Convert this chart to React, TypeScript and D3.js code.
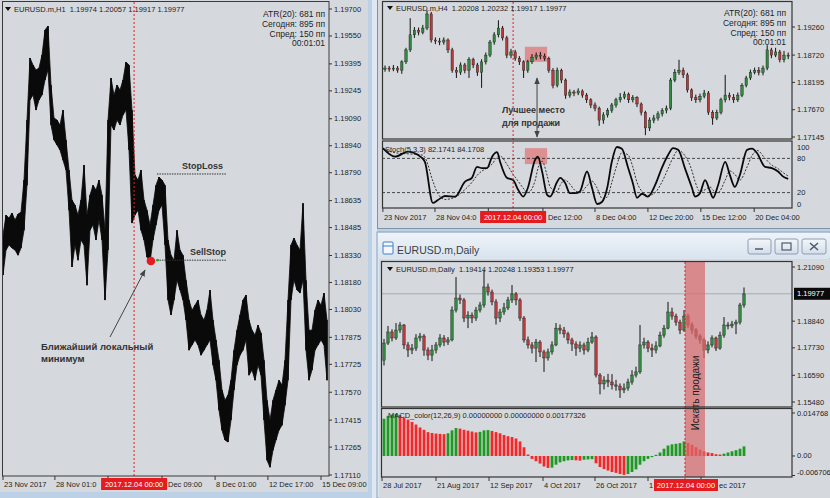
import React from 'react';
import * as d3 from 'd3';

// ---------------- H1 (left window) ----------------
const h1High = [1.18443,1.18555,1.18538,1.18566,1.18527,1.18560,1.18571,1.18749,1.19083,1.19428,1.19389,1.19361,1.19372,1.19444,1.19583,1.19605,1.19277,1.19094,1.19083,1.19055,1.19138,1.18972,1.18805,1.18638,1.18610,1.18555,1.18638,1.18833,1.18555,1.18666,1.18721,1.18694,1.18749,1.18666,1.18471,1.19083,1.19316,1.19222,1.19277,1.19250,1.19305,1.19405,1.19389,1.19138,1.18777,1.18749,1.18805,1.18638,1.18582,1.18499,1.18610,1.18721,1.18766,1.18749,1.18721,1.18416,1.18332,1.18304,1.18471,1.18360,1.18332,1.18193,1.18082,1.18026,1.18054,1.18082,1.17999,1.17971,1.18026,1.18138,1.17971,1.17860,1.17748,1.17582,1.17526,1.17554,1.17637,1.17804,1.17915,1.17999,1.18082,1.18110,1.17971,1.17915,1.17888,1.17943,1.17899,1.17748,1.17526,1.17415,1.17526,1.17582,1.17637,1.17610,1.17748,1.18082,1.18388,1.18427,1.18388,1.18360,1.18621,1.18193,1.17915,1.17915,1.18026,1.18082,1.18054,1.18121,1.17971];
const h1Low = [1.18221,1.18360,1.18388,1.18371,1.18360,1.18332,1.18371,1.18471,1.18721,1.19194,1.19222,1.19138,1.19194,1.19222,1.19305,1.19361,1.19055,1.18972,1.18944,1.18916,1.18860,1.18805,1.18582,1.18266,1.18388,1.18304,1.18416,1.18388,1.18165,1.18471,1.18499,1.18416,1.18527,1.18416,1.18082,1.18360,1.19055,1.19027,1.19083,1.19055,1.19111,1.19138,1.18916,1.18510,1.18555,1.18582,1.18471,1.18416,1.18321,1.18293,1.18416,1.18499,1.18582,1.18610,1.18388,1.18082,1.17999,1.18082,1.18193,1.18138,1.18082,1.17971,1.17804,1.17832,1.17860,1.17832,1.17776,1.17804,1.17832,1.17860,1.17721,1.17637,1.17470,1.17359,1.17304,1.17293,1.17415,1.17582,1.17721,1.17776,1.17804,1.17860,1.17665,1.17693,1.17637,1.17721,1.17665,1.17415,1.17192,1.17153,1.17248,1.17304,1.17359,1.17387,1.17498,1.17637,1.18082,1.18193,1.18138,1.18121,1.18193,1.17804,1.17637,1.17693,1.17804,1.17832,1.17860,1.17832,1.17637];
const h1PriceTicks = [1.197,1.1955,1.19395,1.19245,1.1909,1.1894,1.1879,1.18635,1.18485,1.1833,1.1818,1.1803,1.17875,1.17725,1.1757,1.17415,1.17265,1.1711];
const h1TimePos = [0,17.3,35,53,70.7,88.3,106];
// visible part of each time label (parts under the red date box are not shown)
const h1TimeText = ['23 Nov 2017','28 Nov 01:0','','Dec 09:00','8 Dec 01:00','12 Dec 17:00','15 Dec 09:00'];
const h1TimeShift = [1,1,1,6,1,1,1];
const h1MarkerPos = 43.7;
const h1StopLoss = 1.18783;
const h1SellStop = 1.18304;
const h1LocalMinPos = 49.3;
const h1LocalMin = 1.18299;

// ---------------- H4 (top right) ----------------
const h4FirstOpen = 1.1845;
const h4Close = [1.1847,1.1845,1.1847,1.1843,1.1859,1.1882,1.1911,1.1920,1.1916,1.1924,1.1951,1.1901,1.1899,1.1897,1.1901,1.1882,1.1843,1.1839,1.1853,1.1843,1.1863,1.1853,1.1839,1.1859,1.1872,1.1897,1.1911,1.1924,1.1905,1.1872,1.1878,1.1866,1.1859,1.1843,1.1859,1.1868,1.1872,1.1870,1.1866,1.1843,1.1814,1.1843,1.1824,1.1795,1.1801,1.1799,1.1803,1.1795,1.1786,1.1776,1.1770,1.1747,1.1757,1.1766,1.1776,1.1786,1.1791,1.1797,1.1786,1.1790,1.1778,1.1762,1.1732,1.1747,1.1751,1.1759,1.1766,1.1770,1.1824,1.1839,1.1843,1.1834,1.1805,1.1790,1.1786,1.1793,1.1799,1.1762,1.1751,1.1762,1.1786,1.1795,1.1791,1.1786,1.1795,1.1814,1.1828,1.1839,1.1843,1.1839,1.1847,1.1882,1.1872,1.1878,1.1863,1.1872,1.1870];
const h4High = [1.1852,1.1851,1.1853,1.1851,1.1862,1.1886,1.1943,1.1926,1.1925,1.1930,1.1958,1.1955,1.1906,1.1905,1.1906,1.1904,1.1886,1.1849,1.1858,1.1857,1.1868,1.1867,1.1857,1.1864,1.1877,1.1901,1.1916,1.1939,1.1928,1.1909,1.1884,1.1882,1.1870,1.1862,1.1863,1.1874,1.1877,1.1878,1.1875,1.1869,1.1847,1.1848,1.1846,1.1827,1.1806,1.1805,1.1808,1.1806,1.1799,1.1789,1.1781,1.1773,1.1762,1.1770,1.1780,1.1790,1.1799,1.1802,1.1800,1.1795,1.1793,1.1781,1.1765,1.1752,1.1757,1.1764,1.1770,1.1775,1.1828,1.1845,1.1863,1.1848,1.1838,1.1808,1.1796,1.1798,1.1805,1.1803,1.1766,1.1767,1.1790,1.1834,1.1800,1.1797,1.1800,1.1818,1.1832,1.1844,1.1848,1.1849,1.1852,1.1891,1.1886,1.1886,1.1882,1.1880,1.1877];
const h4Low = [1.1840,1.1840,1.1841,1.1838,1.1836,1.1855,1.1878,1.1905,1.1910,1.1912,1.1920,1.1896,1.1893,1.1891,1.1892,1.1876,1.1838,1.1828,1.1834,1.1837,1.1828,1.1847,1.1832,1.1809,1.1854,1.1868,1.1892,1.1906,1.1900,1.1866,1.1866,1.1861,1.1853,1.1828,1.1838,1.1855,1.1863,1.1864,1.1861,1.1838,1.1808,1.1810,1.1818,1.1788,1.1790,1.1793,1.1795,1.1790,1.1780,1.1770,1.1764,1.1736,1.1740,1.1752,1.1761,1.1771,1.1781,1.1787,1.1780,1.1781,1.1772,1.1756,1.1718,1.1726,1.1741,1.1746,1.1754,1.1760,1.1766,1.1820,1.1834,1.1828,1.1800,1.1784,1.1780,1.1781,1.1789,1.1757,1.1738,1.1747,1.1758,1.1781,1.1785,1.1780,1.1782,1.1791,1.1810,1.1824,1.1835,1.1833,1.1833,1.1843,1.1866,1.1868,1.1858,1.1858,1.1864];
const h4PriceTicks = [1.1926,1.1872,1.18195,1.1767,1.17145];
const stochPos = [-0.5,2.4,5.5,8.8,9.5,11.4,12.6,14.3,16.7,19.0,20.7,21.9,23.1,24.3,25.5,26.7,27.4,29.0,30.5,31.7,32.9,34.0,35.7,36.4,37.4,38.6,39.3,41.0,41.7,42.9,44.0,45.2,46.4,48.1,49.3,50.5,51.7,52.9,54.0,55.2,56.4,57.9,59.0,60.0,61.2,62.6,64.3,65.9,67.4,68.6,69.8,71.4,73.1,73.8,75.0,76.2,77.4,78.1,79.3,81.0,82.1,83.3,84.5,86.2,87.4,88.6,90.5,92.1,93.6,94.8,96.0];
const stochMain = [98,83,92,81,74,2,7,14,13,39,46,65,63,63,83,91,74,46,42,25,13,28,77,83,57,16,13,39,46,37,19,19,22,57,28,0,4,28,74,100,97,63,37,11,18,13,33,63,86,98,95,63,28,13,19,42,22,11,33,74,51,30,51,95,97,89,65,63,57,48,44];
const stochSignal = [96,90,88,86,82,40,18,8,12,25,38,50,58,63,70,82,84,70,52,40,28,20,40,62,75,50,30,22,33,42,35,24,20,32,40,28,10,12,38,68,90,86,65,38,22,15,20,38,62,82,94,85,58,40,22,25,30,24,20,42,58,52,42,65,85,94,80,68,62,55,49];
const stochLevels = [80, 20];
const stochLabels = [100, 80, 20, 0];
const h4TimePos = [-0.5,11.9,24.6,37.6,50,62.6,75.2,87.9];
const h4TimeText = ['23 Nov 2017','28 Nov 04:0','','Dec 12:00','8 Dec 04:00','12 Dec 20:00','15 Dec 12:00','20 Dec 04:00'];
const h4TimeShift = [1,1,1,5,1,1,1,1];
const h4MarkerPos = 30.5;
const h4ZonePos = [33.3, 38.6];
const h4ZonePrice = [1.1859, 1.1888];
const h4ZoneStoch = [70, 98];
const h4ArrowPos = 36.2;
const h4ArrowPrice = 1.1828;

// ---------------- Daily (bottom right) ----------------
const dFirstOpen = 1.1722;
const dClose = [1.1793,1.1839,1.1814,1.1847,1.1868,1.1785,1.1764,1.1772,1.1814,1.1822,1.1764,1.1743,1.1764,1.1785,1.1814,1.1797,1.1806,1.1930,1.1980,1.1972,1.1897,1.1909,1.1897,1.1930,1.1951,1.2026,1.2005,1.1964,1.1897,1.1922,1.1939,1.1972,1.1997,1.1972,1.1897,1.1806,1.1785,1.1772,1.1797,1.1756,1.1731,1.1756,1.1785,1.1855,1.1847,1.1831,1.1806,1.1789,1.1772,1.1785,1.1764,1.1797,1.1818,1.1660,1.1623,1.1639,1.1631,1.1619,1.1614,1.1598,1.1606,1.1631,1.1660,1.1673,1.1785,1.1797,1.1772,1.1764,1.1781,1.1826,1.1855,1.1922,1.1905,1.1880,1.1847,1.1905,1.1868,1.1847,1.1822,1.1806,1.1764,1.1785,1.1814,1.1772,1.1826,1.1868,1.1864,1.1872,1.1880,1.1951,1.1997];
const dHigh = [1.1810,1.1864,1.1850,1.1876,1.1880,1.1872,1.1797,1.1789,1.1830,1.1835,1.1830,1.1775,1.1785,1.1797,1.1830,1.1826,1.1818,1.1945,1.2067,1.1995,1.1980,1.1925,1.1920,1.1943,1.1964,1.2097,1.2040,1.2015,1.1975,1.1935,1.1960,1.1985,1.2034,1.2005,1.1980,1.1905,1.1820,1.1797,1.1810,1.1805,1.1765,1.1770,1.1800,1.1876,1.1870,1.1860,1.1840,1.1815,1.1800,1.1800,1.1795,1.1815,1.1839,1.1825,1.1668,1.1655,1.1665,1.1664,1.1640,1.1625,1.1625,1.1645,1.1680,1.1695,1.1868,1.1815,1.1805,1.1790,1.1800,1.1840,1.1868,1.1964,1.1940,1.1915,1.1890,1.1930,1.1915,1.1880,1.1855,1.1830,1.1815,1.1800,1.1825,1.1820,1.1840,1.1901,1.1880,1.1885,1.1890,1.1960,1.2024];
const dLow = [1.1700,1.1785,1.1800,1.1806,1.1835,1.1768,1.1735,1.1747,1.1760,1.1800,1.1740,1.1722,1.1718,1.1750,1.1775,1.1780,1.1785,1.1800,1.1920,1.1955,1.1880,1.1855,1.1876,1.1885,1.1920,1.1940,1.1990,1.1950,1.1870,1.1880,1.1910,1.1930,1.1960,1.1950,1.1885,1.1795,1.1770,1.1750,1.1714,1.1735,1.1673,1.1720,1.1745,1.1780,1.1830,1.1815,1.1790,1.1760,1.1740,1.1755,1.1745,1.1755,1.1790,1.1650,1.1580,1.1600,1.1610,1.1600,1.1595,1.1565,1.1585,1.1595,1.1620,1.1650,1.1665,1.1770,1.1755,1.1735,1.1750,1.1775,1.1815,1.1850,1.1890,1.1865,1.1830,1.1840,1.1855,1.1830,1.1810,1.1790,1.1731,1.1750,1.1775,1.1760,1.1765,1.1815,1.1850,1.1855,1.1830,1.1870,1.1940];
const dPriceTicks = [1.2109,1.1884,1.1773,1.1659,1.1548];
const dBid = 1.19977;
const macd = [0.0128,0.0138,0.0142,0.0145,0.0140,0.0132,0.0125,0.0117,0.0108,0.0098,0.0090,0.0082,0.0079,0.0077,0.0076,0.0075,0.0078,0.0088,0.0096,0.0094,0.0090,0.0087,0.0084,0.0081,0.0083,0.0088,0.0089,0.0086,0.0082,0.0078,0.0072,0.0068,0.0065,0.0060,0.0050,0.0030,0.0005,-0.0010,-0.0018,-0.0026,-0.0036,-0.0041,-0.0040,-0.0030,-0.0022,-0.0018,-0.0015,-0.0014,-0.0015,-0.0016,-0.0013,-0.0012,-0.0011,-0.0025,-0.0038,-0.0045,-0.0050,-0.0055,-0.0058,-0.0062,-0.0065,-0.0062,-0.0055,-0.0046,-0.0030,-0.0018,-0.0010,-0.0004,0.0004,0.0012,0.0025,0.0036,0.0040,0.0042,0.0044,0.0050,0.0045,0.0038,0.0030,0.0022,0.0016,0.0012,0.0010,0.0006,0.0005,0.0008,0.0012,0.0016,0.0020,0.0025,0.0033];
const macdTicks = [0.014768, 0, -0.006706];
const macdTickText = ['0.014768', '0.00', '-0.006706'];
const dTimePos = [-0.5,13,26.25,39.75,52.75,66,79.25];
const dTimeText = ['28 Jul 2017','21 Aug 2017','12 Sep 2017','4 Oct 2017','26 Oct 2017','1','ec 2017'];
const dTimeShift = [1,1,1,1,1,1,18];
const dZonePos = [75.25, 80.25];

const FONT = 'Liberation Sans, Arial, sans-serif';
const BG = '#d5d9dd';
const CHROME = '#bcd0e6';
const GREEN = '#2f8a3c';
const RED = '#b83a3c';
const MACD_G = '#1e9a22';
const MACD_R = '#f0282a';
const MARK = '#e51b1f';
const TXT = '#1e1e1e';

const fmt5 = (v: number) => v.toFixed(5);

function Tri({ x, y }: { x: number; y: number }) {
  return <path d={`M${x},${y - 2} L${x + 6},${y - 2} L${x + 3},${y + 2} Z`} fill="#111" />;
}

function DateBox({ cx, y, w, text }: { cx: number; y: number; w: number; text: string }) {
  return (
    <g>
      <rect x={cx - w / 2} y={y - 6} width={w} height={12} fill={MARK} />
      <text x={cx} y={y} textAnchor="middle" dominantBaseline="central" fontSize={7.5} fill="#fff" fontFamily={FONT}>{text}</text>
    </g>
  );
}

export default function App() {
  const h1x = d3.scaleLinear().domain([0, 108]).range([3, 327]);
  const h1y = d3.scaleLinear().domain([1.1711, 1.197]).range([475, 9]);
  const h4x = d3.scaleLinear().domain([0, 96]).range([385, 788.2]);
  const h4y = d3.scaleLinear().domain([1.17145, 1.1926]).range([137, 27]);
  const sy = d3.scaleLinear().domain([0, 100]).range([204, 147]);
  const dx = d3.scaleLinear().domain([0, 90]).range([384, 744]);
  const dy = d3.scaleLinear().domain([1.1548, 1.2109]).range([402, 267]);
  const my = d3.scaleLinear().domain([-0.006706, 0.014768]).range([475.5, 413]);

  const stochLine = d3.line<number>().x((_, i) => h4x(stochPos[i])).y((d) => sy(d)).curve(d3.curveMonotoneX);
  const h1Band = d3.area<number>().x((_, i) => h1x(i)).y0((_, i) => h1y(h1Low[i])).y1((d) => h1y(d));

  const candles = (
    close: number[], high: number[], low: number[], first: number,
    xs: (v: number) => number, ys: (v: number) => number, w: number, key: string
  ) =>
    close.map((c, i) => {
      const o = i === 0 ? first : close[i - 1];
      const up = c >= o;
      const top = ys(Math.max(o, c));
      const bot = ys(Math.min(o, c));
      const x = xs(i);
      return (
        <g key={key + i}>
          <line x1={x} x2={x} y1={ys(high[i])} y2={ys(low[i])} stroke="#111" strokeWidth={1} />
          <rect x={x - w / 2} y={top} width={w} height={Math.max(1, bot - top)} fill={up ? GREEN : RED} stroke="#1a1a1a" strokeWidth={0.4} />
        </g>
      );
    });

  return (
    <svg width={830} height={498} style={{ position: 'absolute', left: 0, top: 0 }} fontFamily={FONT}>
      <defs>
        <marker id="ah" viewBox="0 0 10 10" refX="9" refY="5" markerWidth="7" markerHeight="7" orient="auto-start-reverse">
          <path d="M0,1 L10,5 L0,9 Z" fill="#444" />
        </marker>
        <linearGradient id="tb" x1="0" y1="0" x2="0" y2="1">
          <stop offset="0" stopColor="#eef3f9" />
          <stop offset="1" stopColor="#d9e4ef" />
        </linearGradient>
        <linearGradient id="btn" x1="0" y1="0" x2="0" y2="1">
          <stop offset="0" stopColor="#f4f7fb" />
          <stop offset="1" stopColor="#d3dde8" />
        </linearGradient>
        <clipPath id="cH1"><rect x={2} y={2} width={327} height={474} /></clipPath>
        <clipPath id="cH4"><rect x={382} y={2} width={410} height={137} /></clipPath>
        <clipPath id="cSt"><rect x={382} y={141} width={410} height={67} /></clipPath>
        <clipPath id="cD"><rect x={381} y={261} width={411} height={146} /></clipPath>
      </defs>

      {/* chrome */}
      <rect x={0} y={0} width={830} height={498} fill={CHROME} />
      <rect x={0} y={0} width={368} height={492} fill={BG} />
      <rect x={372} y={0} width={5} height={498} fill="#dfe8f2" />
      <rect x={377} y={0} width={453} height={228} fill={BG} />
      <line x1={377.5} x2={377.5} y1={0} y2={228} stroke="#7f93a8" />
      <line x1={377} x2={830} y1={228.5} y2={228.5} stroke="#7f93a8" />
      <rect x={377} y={232} width={453} height={266} fill="#dde6ef" stroke="#8da2b8" />
      <rect x={378} y={233} width={452} height={25} fill="url(#tb)" />
      <rect x={379} y={259} width={451} height={239} fill={BG} />

      {/* =================== LEFT H1 =================== */}
      <g clipPath="url(#cH1)">
        <path d={h1Band(h1High) || ''} fill="#0a0a0a" stroke="#0a0a0a" strokeWidth={0.8} />
        {h1High.map((h, i) => (
          <line key={'h1' + i} x1={h1x(i)} x2={h1x(i)} y1={h1y(h)} y2={h1y(h1Low[i])} stroke="#0a0a0a" strokeWidth={1.6} />
        ))}
      </g>
      <line x1={h1x(h1MarkerPos)} x2={h1x(h1MarkerPos)} y1={2} y2={479} stroke={MARK} strokeDasharray="2,2" strokeWidth={1} />
      <rect x={2.5} y={1.5} width={326.5} height={474.5} fill="none" stroke="#3a3a3a" strokeWidth={1} />
      {h1PriceTicks.map((p) => (
        <g key={'h1t' + p}>
          <line x1={329} x2={332} y1={h1y(p)} y2={h1y(p)} stroke="#333" />
          <text x={334} y={h1y(p)} dominantBaseline="central" fontSize={7.5} fill={TXT}>{fmt5(p)}</text>
        </g>
      ))}
      {h1TimePos.map((p, i) => (
        <g key={'h1x' + i}>
          <line x1={h1x(p)} x2={h1x(p)} y1={476} y2={480} stroke="#333" />
          {h1TimeText[i] && <text x={h1x(p) + h1TimeShift[i]} y={484} dominantBaseline="central" fontSize={7.5} fill={TXT}>{h1TimeText[i]}</text>}
        </g>
      ))}
      <DateBox cx={h1x(h1MarkerPos)} y={484} w={66} text="2017.12.04 00:00" />
      <Tri x={5} y={9} />
      <text x={14} y={9} dominantBaseline="central" fontSize={7.5} fill={TXT} xmlSpace="preserve">EURUSD.m,H1  1.19974 1.20057 1.19917 1.19977</text>
      {['ATR(20): 681 пп', 'Сегодня: 895 пп', 'Спред: 150 пп', '00:01:01'].map((t, i) => (
        <text key={'a1' + i} x={325} y={14 + i * 9.8} textAnchor="end" dominantBaseline="central" fontSize={8.5} fill={TXT}>{t}</text>
      ))}
      <line x1={h1x(51.3)} x2={h1x(74.3)} y1={h1y(h1StopLoss)} y2={h1y(h1StopLoss)} stroke="#333" strokeDasharray="1.5,1" />
      <text x={182} y={166} dominantBaseline="central" fontSize={9} fontWeight="bold" fill="#333">StopLoss</text>
      <line x1={h1x(51.3)} x2={h1x(74.3)} y1={h1y(h1SellStop)} y2={h1y(h1SellStop)} stroke="#333" strokeDasharray="1.5,1" />
      <text x={190} y={252} dominantBaseline="central" fontSize={9} fontWeight="bold" fill="#333">SellStop</text>
      <circle cx={h1x(51.5)} cy={h1y(h1SellStop)} r={1.3} fill="#22aa22" />
      <circle cx={h1x(h1LocalMinPos)} cy={h1y(h1LocalMin)} r={4.3} fill={MARK} />
      <line x1={110} y1={337} x2={145} y2={270} stroke="#444" strokeWidth={1} markerEnd="url(#ah)" />
      <text x={41} y={346} dominantBaseline="central" fontSize={9.5} fontWeight="bold" fill="#333">Ближайший локальный</text>
      <text x={41} y={358} dominantBaseline="central" fontSize={9.5} fontWeight="bold" fill="#333">минимум</text>

      {/* =================== H4 =================== */}
      <g clipPath="url(#cH4)">
        <rect x={h4x(h4ZonePos[0])} y={h4y(h4ZonePrice[1])} width={h4x(h4ZonePos[1]) - h4x(h4ZonePos[0])} height={h4y(h4ZonePrice[0]) - h4y(h4ZonePrice[1])} fill="#e07070" opacity={0.7} />
        {candles(h4Close, h4High, h4Low, h4FirstOpen, h4x, h4y, 2.4, 'h4')}
      </g>
      <g clipPath="url(#cSt)">
        <rect x={h4x(h4ZonePos[0])} y={sy(h4ZoneStoch[1])} width={h4x(h4ZonePos[1]) - h4x(h4ZonePos[0])} height={sy(h4ZoneStoch[0]) - sy(h4ZoneStoch[1])} fill="#e07070" opacity={0.7} />
        {stochLevels.map((l) => (
          <line key={'sl' + l} x1={382} x2={792} y1={sy(l)} y2={sy(l)} stroke="#222" strokeDasharray="3,2" strokeWidth={0.8} />
        ))}
        <path d={stochLine(stochSignal) || ''} fill="none" stroke="#333" strokeWidth={1} strokeDasharray="2,1.5" />
        <path d={stochLine(stochMain) || ''} fill="none" stroke="#0a0a0a" strokeWidth={1.8} />
      </g>
      <line x1={h4x(h4MarkerPos)} x2={h4x(h4MarkerPos)} y1={2} y2={212} stroke={MARK} strokeDasharray="2,2" />
      <rect x={382.5} y={1.5} width={409.5} height={137.5} fill="none" stroke="#333" strokeWidth={1.2} />
      <rect x={382.5} y={141} width={409.5} height={67} fill="none" stroke="#333" strokeWidth={1.2} />
      <line x1={h4x(h4ArrowPos)} x2={h4x(h4ArrowPos)} y1={h4y(h4ArrowPrice)} y2={137} stroke="#444" markerStart="url(#ah)" markerEnd="url(#ah)" />
      <text x={502} y={110} dominantBaseline="central" fontSize={9} fontWeight="bold" fill="#333">Лучшее место</text>
      <text x={502} y={123} dominantBaseline="central" fontSize={9} fontWeight="bold" fill="#333">для продажи</text>
      {h4PriceTicks.map((p) => (
        <g key={'h4t' + p}>
          <line x1={792} x2={795} y1={h4y(p)} y2={h4y(p)} stroke="#333" />
          <text x={797} y={h4y(p)} dominantBaseline="central" fontSize={7.5} fill={TXT}>{fmt5(p)}</text>
        </g>
      ))}
      {stochLabels.map((l) => (
        <text key={'stl' + l} x={797} y={sy(l)} dominantBaseline="central" fontSize={7.5} fill={TXT}>{l}</text>
      ))}
      {h4TimePos.map((p, i) => (
        <g key={'h4x' + i}>
          <line x1={h4x(p)} x2={h4x(p)} y1={208} y2={212} stroke="#333" />
          {h4TimeText[i] && <text x={h4x(p) + h4TimeShift[i]} y={217} dominantBaseline="central" fontSize={7.5} fill={TXT}>{h4TimeText[i]}</text>}
        </g>
      ))}
      <DateBox cx={h4x(h4MarkerPos)} y={217} w={66} text="2017.12.04 00:00" />
      <Tri x={387} y={8} />
      <text x={396} y={8} dominantBaseline="central" fontSize={7.5} fill={TXT} xmlSpace="preserve">EURUSD.m,H4  1.20208 1.20232 1.19917 1.19977</text>
      {['ATR(20): 681 пп', 'Сегодня: 895 пп', 'Спред: 150 пп', '00:01:01'].map((t, i) => (
        <text key={'a4' + i} x={786} y={13 + i * 9.8} textAnchor="end" dominantBaseline="central" fontSize={8.5} fill={TXT}>{t}</text>
      ))}
      <text x={385} y={149} dominantBaseline="central" fontSize={7.5} fill={TXT}>Stoch(5,3,3) 82.1741 84.1708</text>

      {/* =================== DAILY =================== */}
      <rect x={383} y={242} width={10} height={12} fill="#f4f8fc" stroke="#3f7fc4" strokeWidth={1} rx={1} />
      <line x1={383} x2={393} y1={246} y2={246} stroke="#3f7fc4" />
      <text x={397} y={250} dominantBaseline="central" fontSize={10.5} fill="#3a3f46">EURUSD.m,Daily</text>
      {[748, 775, 802].map((bx, i) => (
        <rect key={'btn' + i} x={bx} y={239} width={i === 2 ? 24 : 23} height={15} rx={2} fill="url(#btn)" stroke="#8c9db2" />
      ))}
      <line x1={755} x2={763} y1={249} y2={249} stroke="#4a5a6e" strokeWidth={1.5} />
      <rect x={782} y={243} width={9} height={7} fill="none" stroke="#4a5a6e" strokeWidth={1.2} />
      <path d="M810,243 L818,250 M818,243 L810,250" stroke="#4a5a6e" strokeWidth={1.5} />

      <g clipPath="url(#cD)">
        <line x1={381} x2={792} y1={dy(dBid)} y2={dy(dBid)} stroke="#a8adb3" strokeWidth={1} />
        {candles(dClose, dHigh, dLow, dFirstOpen, dx, dy, 2.4, 'd')}
      </g>
      {macd.map((v, i) => {
        const prev = i === 0 ? -Infinity : macd[i - 1];
        const y0 = my(0);
        const y1 = my(v);
        return (
          <rect key={'m' + i} x={dx(i) - 1.4} y={Math.min(y0, y1)} width={2.8} height={Math.max(0.8, Math.abs(y1 - y0))} fill={v >= prev ? MACD_G : MACD_R} />
        );
      })}
      <rect x={dx(dZonePos[0])} y={262} width={dx(dZonePos[1]) - dx(dZonePos[0])} height={215} fill="#d96a6c" opacity={0.72} />
      <line x1={dx(dZonePos[0])} x2={dx(dZonePos[0])} y1={262} y2={480} stroke={MARK} strokeDasharray="2,2" />
      <text transform={`translate(${dx((dZonePos[0] + dZonePos[1]) / 2) + 0.5},${393}) rotate(-90)`} textAnchor="middle" dominantBaseline="central" fontSize={10} fill="#1a1a1a">Искать продажи</text>
      <rect x={381.5} y={261.5} width={410.5} height={145.5} fill="none" stroke="#333" strokeWidth={1.2} />
      <rect x={381.5} y={408.5} width={410.5} height={68.5} fill="none" stroke="#333" strokeWidth={1.2} />
      {dPriceTicks.map((p) => (
        <g key={'dt' + p}>
          <line x1={792} x2={795} y1={dy(p)} y2={dy(p)} stroke="#333" />
          <text x={797} y={dy(p)} dominantBaseline="central" fontSize={7.5} fill={TXT}>{fmt5(p)}</text>
        </g>
      ))}
      <rect x={794} y={dy(dBid) - 6} width={36} height={12} fill="#0a0a0a" />
      <text x={797} y={dy(dBid)} dominantBaseline="central" fontSize={7.5} fill="#fff">{fmt5(dBid)}</text>
      {macdTicks.map((t, i) => (
        <g key={'mt' + i}>
          <line x1={792} x2={795} y1={my(t)} y2={my(t)} stroke="#333" />
          <text x={797} y={Math.min(my(t), 472)} dominantBaseline="central" fontSize={7.5} fill={TXT}>{macdTickText[i]}</text>
        </g>
      ))}
      <text x={388} y={415} dominantBaseline="central" fontSize={7.5} fill={TXT}>MACD_color(12,26,9) 0.00000000 0.00000000 0.00177326</text>
      {dTimePos.map((p, i) => (
        <g key={'dx' + i}>
          <line x1={dx(p)} x2={dx(p)} y1={477} y2={481} stroke="#333" />
          <text x={dx(p) + dTimeShift[i]} y={485} dominantBaseline="central" fontSize={7.5} fill={TXT}>{dTimeText[i]}</text>
        </g>
      ))}
      <DateBox cx={dx(dZonePos[0]) + 1} y={485} w={64} text="2017.12.04 00:00" />
      <Tri x={387} y={269} />
      <text x={396} y={269} dominantBaseline="central" fontSize={7.5} fill={TXT} xmlSpace="preserve">EURUSD.m,Daily  1.19414 1.20248 1.19353 1.19977</text>
    </svg>
  );
}
